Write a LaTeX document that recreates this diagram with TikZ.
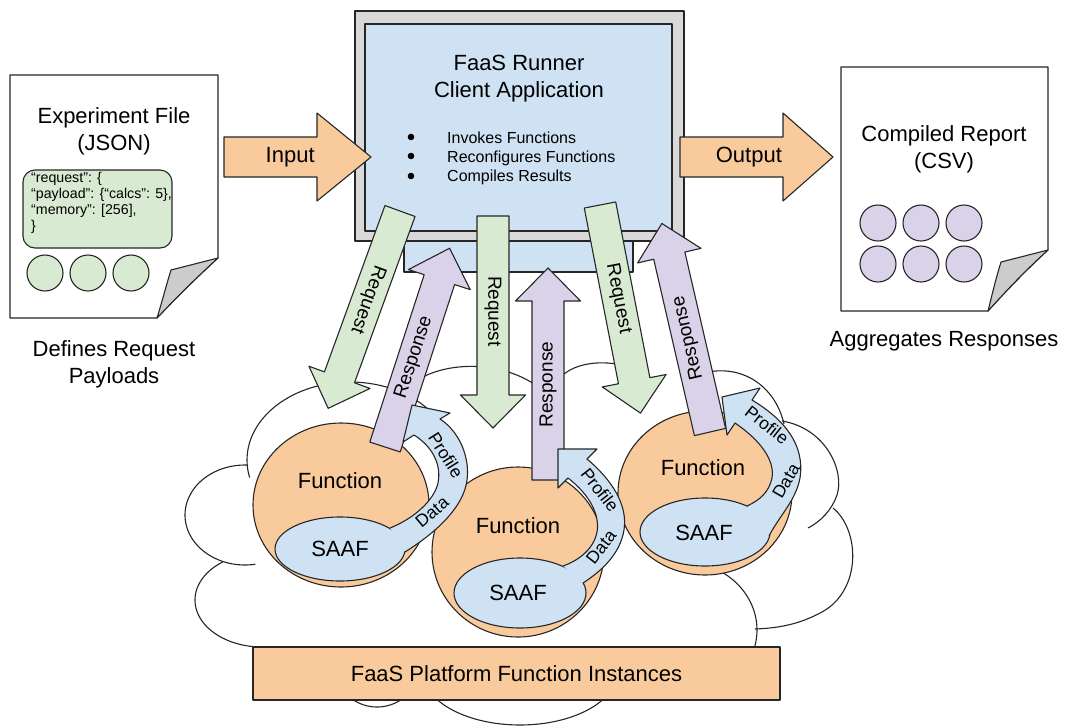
\documentclass[tikz,border=0pt]{standalone}
\usepackage{fontspec}
\setmainfont{Liberation Sans}
\definecolor{fnorange}{HTML}{F9CB9C}
\definecolor{reqgreen}{HTML}{D9EAD3}
\definecolor{saafblue}{HTML}{CFE2F3}
\definecolor{resppurple}{HTML}{D9D2E9}
\definecolor{framegray}{HTML}{D9D9D9}
\definecolor{foldgray}{HTML}{CCCCCC}
\definecolor{ink}{HTML}{262626}

\newcommand{\bigtxt}{\fontsize{22}{26}\selectfont}

% block arrow: name, tail point, direction, length, shaft half width,
% head half width, head length, fill colour, label
\newcommand{\blockarrow}[9]{%
  \begin{scope}[shift={#2}, rotate=#3]
    \draw[shape line, fill=#8] (0,-#5) -- ({#4-#7},-#5) -- ({#4-#7},-#6) -- (#4,0)
      -- ({#4-#7},#6) -- ({#4-#7},#5) -- (0,#5) -- cycle;
    \node[arrow text, rotate=#3] (#1) at ({0.45*#4},0) {#9};
  \end{scope}}

% curved "Profile Data" arrows leaving each SAAF ellipse
\def\profileone{(390,528) .. controls (415,518) and (434,500) .. (438,483)
  .. controls (442,462) and (430,445) .. (414,435) -- (403,442) -- (412,405)
  -- (450,413) -- (440,419) .. controls (460,432) and (470,458) .. (467,480)
  .. controls (464,505) and (440,530) .. (405,552)}
\def\profiletwo{(563,566) .. controls (580,560) and (594,548) .. (597,532)
  .. controls (600,515) and (590,495) .. (568,478) -- (558,488) -- (558,449)
  -- (597,449) -- (587,459) .. controls (612,480) and (628,505) .. (624,530)
  .. controls (620,555) and (600,572) .. (583,583)}
\def\profilethree{(747,506) .. controls (760,500) and (769,492) .. (772,478)
  .. controls (775,460) and (760,440) .. (735,423) -- (727,435) -- (722,397)
  -- (760,388) -- (752,400) .. controls (785,420) and (805,445) .. (800,478)
  .. controls (796,500) and (780,515) .. (769,536)}

\tikzset{
  shape line/.style={draw=ink, line width=1.1pt, line join=round},
  cloud line/.style={draw=ink, line width=1.1pt},
  arrow text/.style={font=\fontsize{19}{21}\selectfont, inner sep=0pt},
  head text/.style={font=\bigtxt, inner sep=0pt, anchor=base},
  bullet text/.style={font=\fontsize{16}{18}\selectfont, anchor=base west, inner sep=0pt},
  json text/.style={font=\fontsize{14.2}{16}\selectfont, align=left, anchor=west, inner sep=0pt},
  profile text/.style={font=\fontsize{17.5}{19}\selectfont, inner sep=0pt},
  dot/.style={circle, shape line, minimum size=36pt, inner sep=0pt},
}

\begin{document}
\begin{tikzpicture}[x=1pt, y=-1pt]
\useasboundingbox (0,0) rectangle (1067,726);

% ---------- cloud of function instances ----------
\draw[cloud line] plot[domain=167:319, samples=60, variable=\t] ({350+103*cos(\t)},{460+78*sin(\t)});
\draw[cloud line] plot[domain=80:273, samples=60, variable=\t] ({245+60*cos(\t)},{515+50*sin(\t)});
\draw[cloud line] plot[domain=98:234, samples=50, variable=\t] ({262+67*cos(\t)},{600+47*sin(\t)});
\draw[cloud line] plot[domain=30:150, samples=40, variable=\t] ({377+45*cos(\t)},{660+47*sin(\t)});
\draw[cloud line] plot[domain=20:160, samples=50, variable=\t] ({520+97*cos(\t)},{672+53*sin(\t)});
\draw[cloud line] plot[domain=-56:20, samples=40, variable=\t] ({680+77*cos(\t)},{630+69*sin(\t)});
\draw[cloud line] (833,508) .. controls (860,530) and (862,590) .. (822,612) .. controls (800,624) and (780,628) .. (755,629);
\draw[cloud line] (782,421) .. controls (825,428) and (845,470) .. (837,495) .. controls (832,510) and (820,522) .. (808,528);
\draw[cloud line] (700,374) .. controls (740,362) and (775,385) .. (784,424);
\draw[cloud line] (560,378) .. controls (575,360) and (615,358) .. (640,372);
\draw[cloud line] (418,380) .. controls (445,362) and (505,358) .. (545,392);

% ---------- experiment file ----------
\draw[shape line, fill=white] (10,75) -- (218,75) -- (218,258) .. controls (196,278) and (176,298) .. (157,318) -- (10,318) -- cycle;
\draw[shape line, fill=foldgray] (218,258) -- (171,270) .. controls (166,286) and (162,302) .. (157,318) .. controls (176,298) and (196,278) .. (218,258) -- cycle;
\node[head text] (expA) at (114,123) {Experiment File};
\node[head text] (expB) at (114,150) {(JSON)};
\node[shape line, fill=reqgreen, rounded corners=12pt, minimum width=149pt, minimum height=78pt] (jsonbox) at (97.5,209) {};
\node[json text] (jsontxt) at (31,203) {“request”: \{\\“payload”: \{“calcs”: 5\},\\“memory”: [256],\\\}};
\node[dot, fill=reqgreen] (g1) at (45,273) {};
\node[dot, fill=reqgreen] (g2) at (88,273) {};
\node[dot, fill=reqgreen] (g3) at (131,273) {};
\node[head text] (defA) at (114,356) {Defines Request};
\node[head text] (defB) at (114,383) {Payloads};

% ---------- compiled report ----------
\draw[shape line, fill=white] (841,67) -- (1048,67) -- (1048,250) .. controls (1026,270) and (1006,291) .. (988,311) -- (841,311) -- cycle;
\draw[shape line, fill=foldgray] (1048,250) -- (1001,262) .. controls (996,278) and (992,295) .. (988,311) .. controls (1006,291) and (1026,270) .. (1048,250) -- cycle;
\node[head text] (repA) at (944,141) {Compiled Report};
\node[head text] (repB) at (944,168) {(CSV)};
\node[dot, fill=resppurple] (p1) at (878,223) {};
\node[dot, fill=resppurple] (p2) at (921,223) {};
\node[dot, fill=resppurple] (p3) at (964,223) {};
\node[dot, fill=resppurple] (p4) at (878,264) {};
\node[dot, fill=resppurple] (p5) at (921,264) {};
\node[dot, fill=resppurple] (p6) at (964,264) {};
\node[head text] (agg) at (944,346) {Aggregates Responses};

% ---------- FaaS Runner client ----------
\draw[shape line, fill=saafblue] (404,236) rectangle (633,272);
\draw[shape line, fill=framegray] (355,11) rectangle (684,241);
\draw[shape line, fill=saafblue] (365,24) rectangle (672,231);
\node[head text] (runA) at (519,70) {FaaS Runner};
\node[head text] (runB) at (519,97) {Client Application};
\fill[black] (411,137) circle[radius=3.3pt];
\fill[black] (411,156) circle[radius=3.3pt];
\fill[black] (411,176) circle[radius=3.3pt];
\node[bullet text] (b1) at (447,143) {Invokes Functions};
\node[bullet text] (b2) at (447,162) {Reconfigures Functions};
\node[bullet text] (b3) at (447,181.5) {Compiles Results};

% ---------- platform bar ----------
\node[shape line, fill=fnorange, minimum width=527pt, minimum height=53pt, inner sep=0pt,
      font=\bigtxt] (platform) at (516.5,673.5) {FaaS Platform Function Instances};

% ---------- function instances ----------
\draw[shape line, fill=fnorange] (341,505) ellipse [x radius=88pt, y radius=82pt];
\draw[shape line, fill=fnorange] (518,552) ellipse [x radius=86pt, y radius=85pt];
\draw[shape line, fill=fnorange] (705,493) ellipse [x radius=87pt, y radius=82pt];
\node[head text] (fn1) at (340,488) {Function};
\node[head text] (fn2) at (518,533) {Function};
\node[head text] (fn3) at (703,475) {Function};

% ---------- requests and responses ----------
\blockarrow{req1}{(400,211)}{-110}{210}{16}{32.5}{33}{reqgreen}{Request}
\blockarrow{resp1}{(385,447)}{72}{209}{16}{32.5}{33}{resppurple}{Response}
\blockarrow{req2}{(493,216)}{-90}{212}{16}{32.5}{33}{reqgreen}{Request}
\blockarrow{resp2}{(548,480)}{90}{212}{16}{32.5}{33}{resppurple}{Response}
\blockarrow{req3}{(600,205)}{-79}{212}{16}{32.5}{33}{reqgreen}{Request}
\blockarrow{resp3}{(710,432)}{103}{214}{16}{32.5}{33}{resppurple}{Response}

% ---------- SAAF profilers ----------
\draw[shape line, fill=saafblue] (340,549) ellipse [x radius=65pt, y radius=32pt];
\draw[shape line, fill=saafblue] (520,593) ellipse [x radius=66pt, y radius=35pt];
\draw[shape line, fill=saafblue] (705,532) ellipse [x radius=65pt, y radius=34pt];
\fill[saafblue] \profileone -- cycle;
\draw[shape line] \profileone;
\fill[saafblue] \profiletwo -- cycle;
\draw[shape line] \profiletwo;
\fill[saafblue] \profilethree -- cycle;
\draw[shape line] \profilethree;
\node[head text] (saaf1) at (340,556) {SAAF};
\node[head text] (saaf2) at (518,600) {SAAF};
\node[head text] (saaf3) at (704,540) {SAAF};
\node[profile text, rotate=-58] (prof1) at (446,455) {Profile};
\node[profile text, rotate=40] (data1) at (432,512) {Data};
\node[profile text, rotate=-52] (prof2) at (600,490) {Profile};
\node[profile text, rotate=52] (data2) at (601,547) {Data};
\node[profile text, rotate=-38] (prof3) at (767,425) {Profile};
\node[profile text, rotate=60] (data3) at (786,481) {Data};

% ---------- input and output ----------
\blockarrow{inarrow}{(224,157)}{0}{147}{20}{44}{54}{fnorange}{\bigtxt Input}
\blockarrow{outarrow}{(680,157)}{0}{153}{20}{44}{50}{fnorange}{\bigtxt Output}

\end{tikzpicture}
\end{document}
